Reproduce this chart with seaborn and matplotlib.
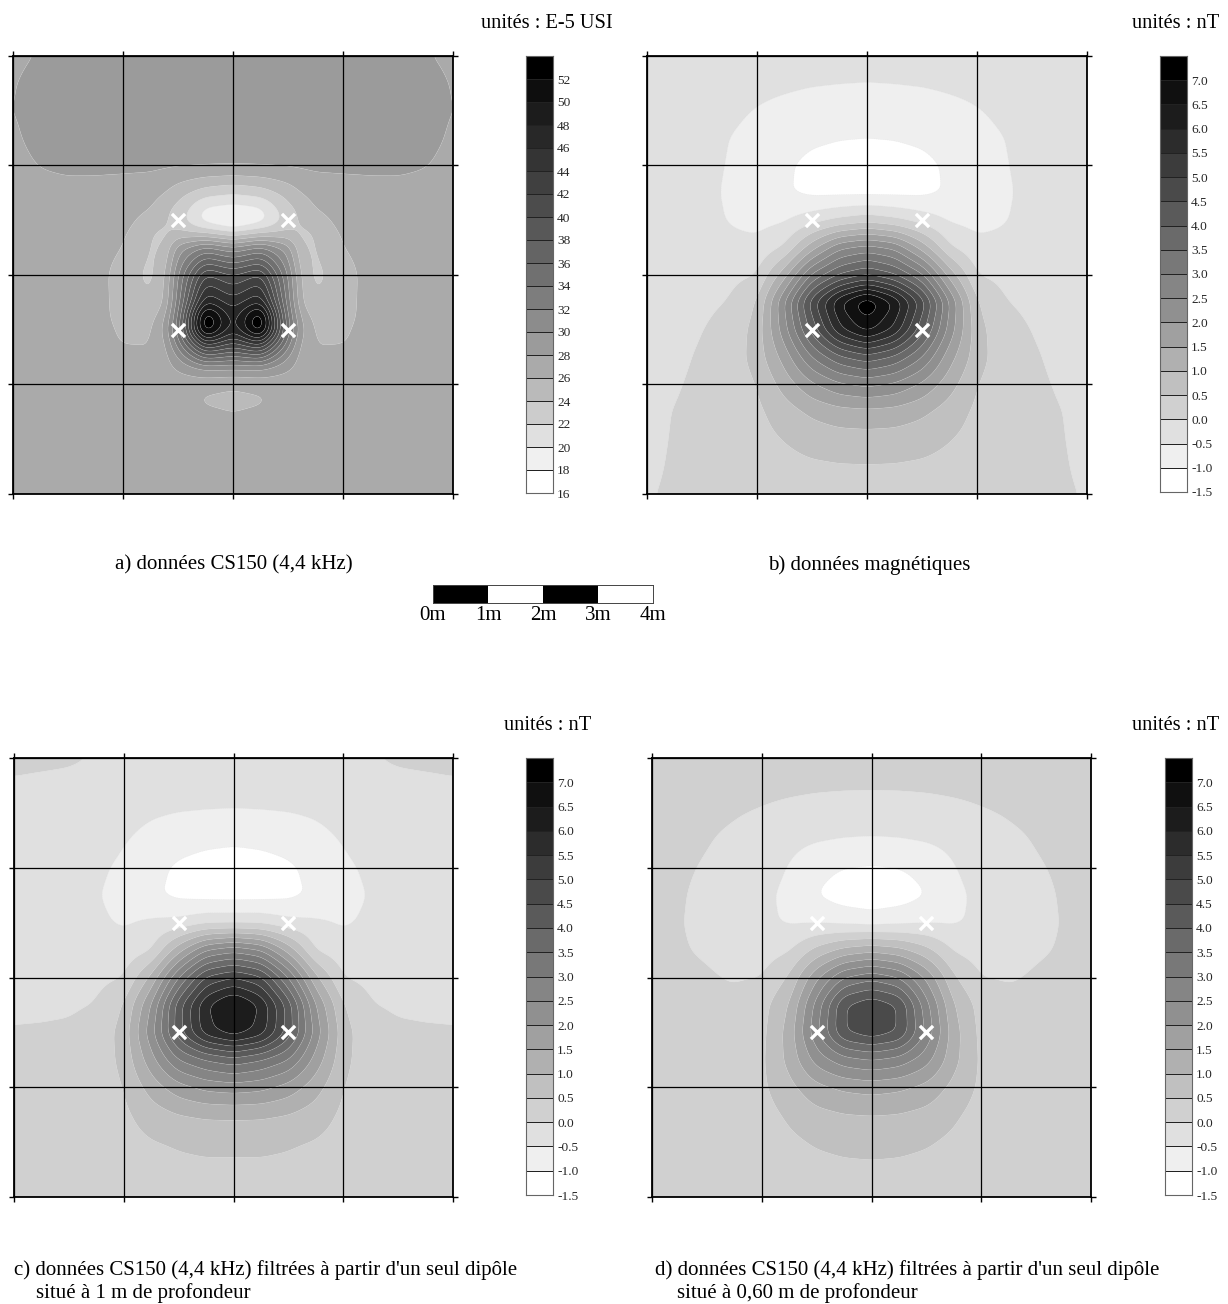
import numpy as np
import matplotlib
matplotlib.use("Agg")
import matplotlib.pyplot as plt
from matplotlib.colors import ListedColormap
import seaborn as sns

W, H = 1228, 1304

x_half_a = [0, .25, .5, .75, 1, 1.25, 1.375, 1.5, 1.75, 2]
y_rows_a = [0, .25, .5, .75, 1, 1.25, 1.375, 1.5, 1.625, 1.75, 2, 2.25, 2.375, 2.5, 2.625, 2.75, 2.875,
            3, 3.125, 3.25, 3.5, 3.75, 4]
panel_a = [
 [27.7,28.1,28.5,28.7,28.8,28.9,28.9,28.9,28.9,28.9],
 [27.9,28.5,28.8,28.9,29,29,29,29,29,29],
 [27.95,28.6,28.9,29,29,29,29,29,29,29],
 [27.8,28.4,28.8,28.9,28.9,28.9,28.9,28.9,28.9,28.9],
 [27.6,28.05,28.3,28.35,28.35,28.35,28.3,28.25,28.2,28.15],
 [27.4,27.5,27.5,27.4,27.2,26.9,26.1,24.8,22.9,22.2],
 [27.3,27.3,27.3,27.2,27,26.2,24.6,23.6,19.9,19.5],
 [27,27,27,27,26.8,25.1,24.4,22.9,18.8,16.9],
 [27,27,27,26.9,26.3,24.1,23.4,24.6,24.2,22.7],
 [27,27,27,26.9,26,23.8,24,29,32.5,30.3],
 [27,27,27,26.9,25,23.5,25.3,32,42.3,40],
 [27,27,27,26.9,25.1,24.1,25.8,33,48,44.9],
 [27,27,27,26.9,25.2,25.2,27.3,34,54.5,46.8],
 [27,27,27,27,25.6,25.6,28.3,35,54.5,46.8],
 [27,27,27,27,25.9,26,27.4,33,45.3,41.7],
 [27,27,27,27,26.7,26.1,27,30,36.8,35.5],
 [27,27,27,27,27,26.9,27,27.9,29.2,29.2],
 [27,27,27,27,27,27,27,27,26.8,26.3],
 [27,27,27,27,27,27,27,26.7,25.7,25.5],
 [27,27,27,27,27,27,27,26.9,26.3,26],
 [27,27,27,27,27,27,27,26.9,26.8,26.7],
 [27,27,27,27,27,27,27,27,26.9,26.9],
 [27,27,27,27,27,27,27,27,27,27],
]
x_half_nt = [0, .25, .5, .75, 1, 1.25, 1.5, 1.75, 2]
y_rows_nt = [0, .25, .5, .75, 1, 1.25, 1.5, 1.75, 2, 2.25, 2.5, 2.75, 3, 3.25, 3.5, 3.75, 4]
panel_b = [
 [-.20,-.25,-.28,-.31,-.34,-.37,-.40,-.42,-.43],
 [-.20,-.25,-.3,-.34,-.38,-.42,-.46,-.48,-.49],
 [-.2,-.27,-.33,-.42,-.52,-.62,-.72,-.76,-.78],
 [-.2,-.28,-.38,-.5,-.62,-.8,-.92,-.98,-1.0],
 [-.2,-.28,-.4,-.52,-.7,-.93,-1.12,-1.2,-1.22],
 [-.2,-.28,-.4,-.55,-.72,-.95,-1.12,-1.14,-1.14],
 [-.2,-.27,-.38,-.52,-.65,-.55,-.2,.1,.3],
 [-.2,-.25,-.32,-.38,-.35,.05,1.3,2.4,2.7],
 [-.2,-.2,-.18,-.12,0,1.3,3.1,4.05,4.5],
 [-.17,-.14,-.08,.02,.5,2.5,4.8,6.5,7.5],
 [-.14,-.1,-.01,.14,.7,2.3,4.2,5.9,6.7],
 [-.12,-.07,.04,.18,.72,1.7,3.0,3.9,4.3],
 [-.1,-.03,.07,.2,.5,1.2,1.9,2.4,2.6],
 [-.08,.01,.09,.2,.4,.75,1.1,1.3,1.35],
 [-.07,.02,.1,.18,.33,.52,.7,.78,.8],
 [-.05,.03,.1,.15,.25,.34,.42,.46,.47],
 [-.02,.04,.1,.12,.16,.2,.23,.25,.25],
]
panel_c = [
 [.1,.08,.05,-.02,-.03,-.05,-.07,-.09,-.1],
 [-.05,-.08,-.1,-.15,-.2,-.25,-.3,-.33,-.34],
 [-.1,-.13,-.18,-.26,-.36,-.45,-.5,-.52,-.53],
 [-.13,-.17,-.22,-.32,-.47,-.63,-.8,-.88,-.92],
 [-.15,-.2,-.27,-.42,-.58,-.85,-1.08,-1.22,-1.28],
 [-.15,-.2,-.28,-.47,-.65,-.92,-1.12,-1.18,-1.2],
 [-.15,-.2,-.27,-.42,-.55,-.42,-.35,-.12,-.1],
 [-.15,-.2,-.22,-.27,-.3,-.05,1.3,2.5,2.85],
 [-.1,-.12,-.14,-.12,0,1.1,3.0,4.6,5],
 [-.08,-.07,-.05,.02,.5,2.0,4.3,5.95,6.7],
 [.03,.04,.06,.15,.7,2.3,4.3,5.8,6.3],
 [.05,.06,.08,.17,.65,1.8,3.0,3.5,3.8],
 [.06,.07,.1,.18,.5,1.2,1.8,2.15,2.25],
 [.07,.08,.1,.18,.4,.75,.98,1.08,1.1],
 [.08,.09,.1,.17,.3,.47,.55,.6,.6],
 [.08,.09,.1,.14,.22,.32,.4,.42,.42],
 [.08,.09,.1,.12,.15,.19,.22,.24,.25],
]
panel_d = [
 [.25,.25,.22,.2,.18,.16,.14,.12,.1],
 [.2,.18,.15,.12,.1,.08,.06,.05,.05],
 [.18,.12,.08,.03,-.03,-.1,-.16,-.2,-.22],
 [.15,.08,.02,-.07,-.22,-.37,-.47,-.53,-.55],
 [.12,.05,-.03,-.12,-.3,-.52,-.85,-1.0,-1.05],
 [.1,.03,-.08,-.2,-.38,-.62,-1.0,-1.25,-1.35],
 [.1,.02,-.1,-.22,-.4,-.55,-.55,-.62,-.7],
 [.1,.03,-.04,-.16,-.22,-.05,.65,1.15,1.35],
 [.12,.07,.04,-.03,0,.55,1.9,3.0,3.35],
 [.13,.1,.08,.1,.3,1.0,2.7,4.5,4.9],
 [.13,.11,.1,.12,.35,1.2,2.9,4.5,4.85],
 [.13,.12,.1,.13,.4,1.15,2.2,2.8,3],
 [.12,.12,.1,.13,.4,.85,1.35,1.6,1.7],
 [.12,.11,.1,.12,.3,.58,.85,.97,1],
 [.11,.1,.1,.12,.22,.4,.55,.63,.65],
 [.1,.1,.09,.1,.16,.27,.35,.4,.42],
 [.09,.09,.09,.09,.11,.14,.17,.19,.2],
]

levels_cs = [16,18,20,22,24,26,28,30,32,34,36,38,40,42,44,46,48,50,52,54]
levels_nt = [-1.5,-1,-.5,0,.5,1,1.5,2,2.5,3,3.5,4,4.5,5,5.5,6,6.5,7,7.5]
grays_cs = [255,240,224,204,186,170,155,140,125,112,100,88,76,64,52,40,28,14,0]
grays_nt = [255,239,224,208,192,176,160,144,133,120,106,90,74,60,44,28,16,0]
dipoles_x = [1.5, 2.5, 1.5, 2.5]
dipoles_y = [1.5, 1.5, 2.5, 2.5]
grid_ticks = [0, 1, 2, 3, 4]
scale_labels = ["0m", "1m", "2m", "3m", "4m"]
scale_cells = [1, 0, 1, 0]

sns.set_theme(style="white")
plt.rcParams["font.family"] = ["Liberation Serif", "DejaVu Serif"]

fig = plt.figure(figsize=(W / 100, H / 100), dpi=100, facecolor="white")

def axpx(x0, x1, y0, y1):
    return fig.add_axes([x0 / W, 1 - y1 / H, (x1 - x0) / W, (y1 - y0) / H])

def tx(x, y, s, size=15, ha="left"):
    fig.text(x / W, 1 - y / H, s, fontsize=size, ha=ha, va="center", color="black")

def hexg(v):
    return "#%02x%02x%02x" % (v, v, v)

def box_smooth(a, k):
    ker = np.ones(k) / k
    p = k // 2
    a = np.apply_along_axis(lambda r: np.convolve(np.pad(r, p, mode="edge"), ker, mode="valid"), 0, a)
    a = np.apply_along_axis(lambda r: np.convolve(np.pad(r, p, mode="edge"), ker, mode="valid"), 1, a)
    return a

def draw_map(box, half, x_half, y_rows, levels, grays):
    ax = axpx(*box)
    half = np.array(half, float)
    Z = np.hstack([half, half[:, -2::-1]])
    xh = np.array(x_half, float)
    xs = np.concatenate([xh, 4 - xh[-2::-1]])
    ys = np.array(y_rows, float)
    xf = np.linspace(0, 4, 321)
    yf = np.linspace(0, 4, 321)
    ZX = np.array([np.interp(xf, xs, row) for row in Z])
    ZF = np.array([np.interp(yf, ys, ZX[:, j]) for j in range(len(xf))]).T
    ZF = box_smooth(box_smooth(ZF, 9), 9)
    ZF = np.clip(ZF, levels[0] + 1e-3, levels[-1] - 1e-3)
    ax.contourf(xf, yf, ZF, levels=levels, colors=[hexg(g) for g in grays], antialiased=True)
    ax.contour(xf, yf, ZF, levels=levels, colors="#d8d8d8", linewidths=0.3, alpha=0.45)
    ax.set_xlim(0, 4)
    ax.set_ylim(4, 0)
    ax.set_xticks(grid_ticks)
    ax.set_yticks(grid_ticks)
    ax.set_xticklabels([])
    ax.set_yticklabels([])
    ax.grid(True, color="black", lw=0.9)
    ax.set_axisbelow(False)
    ax.tick_params(length=3.8, width=1.0, color="black", direction="out",
                   left=True, right=True, top=True, bottom=True)
    for s in ax.spines.values():
        s.set_visible(True)
        s.set_color("black")
        s.set_linewidth(1.3)
    sns.scatterplot(x=dipoles_x, y=dipoles_y, ax=ax, marker="x", s=90, color="white",
                    linewidth=2.4, legend=False, zorder=5, clip_on=False)
    ax.set_xlabel("")
    ax.set_ylabel("")

def draw_bar(box, levels, grays, fmt):
    ax = axpx(*box)
    n = len(grays)
    data = np.arange(n)[::-1].reshape(-1, 1)
    sns.heatmap(data, ax=ax, cmap=ListedColormap([hexg(g) for g in grays]), vmin=0, vmax=n - 1,
                cbar=False, xticklabels=False, yticklabels=False, linewidths=0.7, linecolor="#222222")
    for s in ax.spines.values():
        s.set_visible(True)
        s.set_linewidth(0.8)
        s.set_color("#666666")
    ax.yaxis.tick_right()
    ax.set_yticks(np.arange(1, n + 1))
    ax.set_yticklabels([fmt % v for v in levels[:-1][::-1]], fontsize=9.6, rotation=0)
    ax.tick_params(axis="y", length=0, pad=3, right=False)

draw_map((13, 453, 56, 494), panel_a, x_half_a, y_rows_a, levels_cs, grays_cs)
draw_map((647, 1087, 56, 494), panel_b, x_half_nt, y_rows_nt, levels_nt, grays_nt)
draw_map((14, 453, 758, 1197), panel_c, x_half_nt, y_rows_nt, levels_nt, grays_nt)
draw_map((652, 1091, 758, 1197), panel_d, x_half_nt, y_rows_nt, levels_nt, grays_nt)

draw_bar((526, 553, 56, 493), levels_cs, grays_cs, "%d")
draw_bar((1160, 1187, 56, 492), levels_nt, grays_nt, "%.1f")
draw_bar((526, 553, 758, 1195), levels_nt, grays_nt, "%.1f")
draw_bar((1165, 1192, 758, 1195), levels_nt, grays_nt, "%.1f")

# scale bar
sb = axpx(433, 653, 585, 603)
sns.heatmap(np.array([scale_cells]), ax=sb, cmap=ListedColormap(["white", "black"]), vmin=0, vmax=1,
            cbar=False, xticklabels=False, yticklabels=False)
for s in sb.spines.values():
    s.set_visible(True)
    s.set_linewidth(0.7)
    s.set_color("#444444")
for i, s in enumerate(scale_labels):
    tx(433 + 55 * i, 615, s, size=15, ha="center")

tx(481, 23, "unités : E-5 USI", size=14.7)
tx(1132, 23, "unités : nT", size=14.7)
tx(504, 726, "unités : nT", size=14.7)
tx(1132, 726, "unités : nT", size=14.7)
tx(115, 565, "a) données CS150 (4,4 kHz)", size=15)
tx(768, 565, "b) données magnétiques", size=15)
tx(14, 1270, "c) données CS150 (4,4 kHz) filtrées à partir d'un seul dipôle", size=15)
tx(36, 1293, "situé à 1 m de profondeur", size=15)
tx(655, 1270, "d) données CS150 (4,4 kHz) filtrées à partir d'un seul dipôle", size=15)
tx(677, 1293, "situé à 0,60 m de profondeur", size=15)

fig.savefig("out.png", dpi=100, facecolor="white")
